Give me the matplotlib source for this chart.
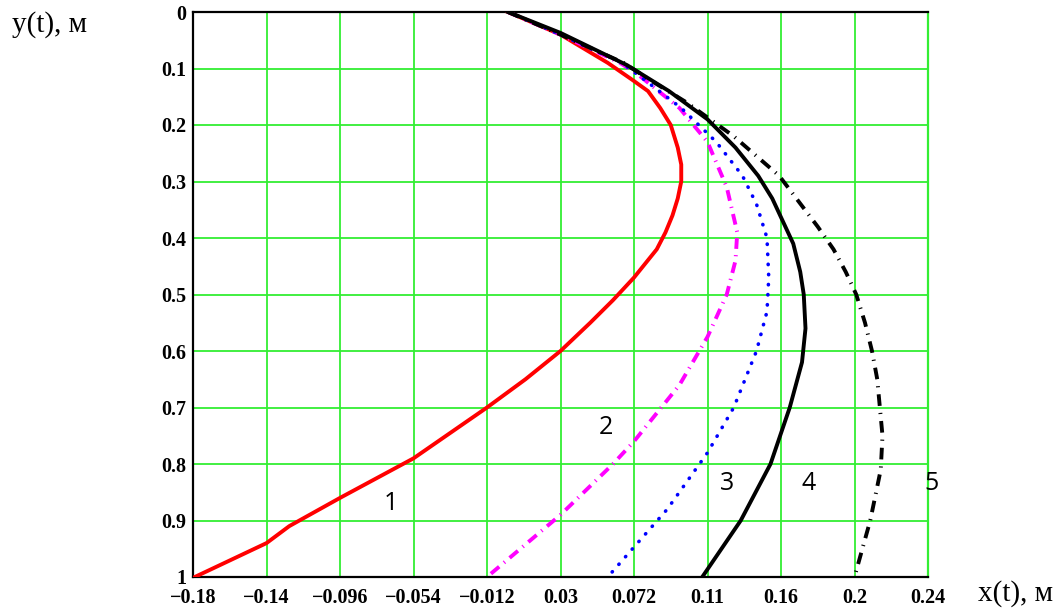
import numpy as np
import matplotlib
matplotlib.use('Agg')
import matplotlib.pyplot as plt

# curve 1 (red, solid)
y1 = [0, 0.04, 0.09, 0.12, 0.14, 0.17, 0.20, 0.24, 0.27, 0.30, 0.33, 0.36, 0.39, 0.42, 0.47, 0.51,
      0.55, 0.60, 0.65, 0.70, 0.745, 0.79, 0.825, 0.86, 0.91, 0.94, 1.0]
x1 = [0, 0.030, 0.057, 0.071, 0.080, 0.087, 0.093, 0.097, 0.099, 0.099, 0.097, 0.094, 0.090, 0.085, 0.072, 0.060,
      0.047, 0.030, 0.010, -0.012, -0.033, -0.054, -0.075, -0.096, -0.125, -0.138, -0.179]

# curve 2 (magenta, dash-dot)
y2 = [0, 0.04, 0.09, 0.11, 0.17, 0.23, 0.31, 0.39, 0.44, 0.50, 0.575, 0.66, 0.76, 0.80, 0.89, 1.0]
x2 = [0, 0.030, 0.064, 0.074, 0.098, 0.114, 0.125, 0.131, 0.130, 0.125, 0.114, 0.098, 0.072, 0.060, 0.030, -0.012]

# curve 3 (blue, dotted)
y3 = [0, 0.04, 0.09, 0.12, 0.17, 0.23, 0.29, 0.34, 0.40, 0.47, 0.53, 0.60, 0.70, 0.78, 0.88, 0.94, 1.0]
x3 = [0, 0.030, 0.065, 0.078, 0.099, 0.119, 0.134, 0.142, 0.148, 0.149, 0.148, 0.142, 0.129, 0.114, 0.091, 0.074, 0.057]

# curve 4 (black, solid)
y4 = [0, 0.037, 0.094, 0.14, 0.19, 0.24, 0.29, 0.33, 0.37, 0.41, 0.46, 0.50, 0.56, 0.62, 0.70, 0.80, 0.90, 1.0]
x4 = [0, 0.030, 0.068, 0.092, 0.114, 0.130, 0.143, 0.151, 0.157, 0.163, 0.167, 0.169, 0.170, 0.168, 0.161, 0.150, 0.133, 0.111]

# curve 5 (black, dash-dot)
y5 = [0, 0.04, 0.09, 0.12, 0.16, 0.22, 0.29, 0.38, 0.42, 0.46, 0.50, 0.55, 0.60, 0.65, 0.75, 0.81, 0.90, 1.0]
x5 = [0, 0.030, 0.066, 0.081, 0.102, 0.129, 0.155, 0.177, 0.186, 0.193, 0.199, 0.204, 0.208, 0.211, 0.214, 0.213, 0.207, 0.198]

xticks = np.linspace(-0.18, 0.24, 11)
xtick_labels = ['\u22120.18', '\u22120.14', '\u22120.096', '\u22120.054', '\u22120.012',
                '0.03', '0.072', '0.11', '0.16', '0.2', '0.24']
yticks = np.linspace(0, 1, 11)
ytick_labels = ['0', '0.1', '0.2', '0.3', '0.4', '0.5', '0.6', '0.7', '0.8', '0.9', '1']

curve_labels = ['1', '2', '3', '4', '5']
label_pos = [(-0.067, 0.87), (0.056, 0.735), (0.125, 0.835), (0.172, 0.835), (0.242, 0.835)]

fig = plt.figure(figsize=(10.56, 6.08), dpi=100)
ax = fig.add_axes([193/1056, 31/608, 735/1056, 565/608])

grid_c = '#33ee33'
for xt in xticks:
    ax.axvline(xt, color=grid_c, lw=1.3, zorder=1)
for yt in yticks:
    ax.axhline(yt, color=grid_c, lw=1.3, zorder=1)

lw = 2.8
ax.plot(x1, y1, color='#ff0000', lw=lw, zorder=3, solid_joinstyle='round')
ax.plot(x2, y2, color='#ff00ff', lw=lw, linestyle=(0, (2.8, 1.6, 0.3, 1.6)), zorder=3)
ax.plot(x3, y3, color='#0000ff', lw=2.6, linestyle=(0, (0.1, 2.7)),
        dash_capstyle='round', zorder=3)
ax.plot(x4, y4, color='black', lw=lw, zorder=4, solid_joinstyle='round')
ax.plot(x5, y5, color='black', lw=lw, linestyle=(0, (3.0, 1.8, 0.3, 1.8)), zorder=3)

for lab, (lx, ly) in zip(curve_labels, label_pos):
    ax.text(lx, ly, lab, fontsize=18, family='Open Sans', ha='center', va='center', zorder=5)

ax.set_xlim(-0.18, 0.24)
ax.set_ylim(1, 0)
ax.set_xticks(xticks)
ax.set_xticklabels(xtick_labels)
ax.set_yticks(yticks)
ax.set_yticklabels(ytick_labels)
ax.tick_params(length=0)
ax.tick_params(axis='x', pad=8)
ax.tick_params(axis='y', pad=5)
for t in ax.get_xticklabels() + ax.get_yticklabels():
    t.set_family('Liberation Serif')
    t.set_fontweight('bold')
    t.set_fontsize(14.5)

for s in ['left', 'bottom', 'top']:
    ax.spines[s].set_color('black')
    ax.spines[s].set_linewidth(1.6)
ax.spines['right'].set_color(grid_c)
ax.spines['right'].set_linewidth(1.6)

fig.text(12/1056, 1 - 25/608, 'y(t), м', family='Liberation Serif', fontsize=21, va='center', ha='left')
fig.text(978/1056, 1 - 594/608, 'x(t), м', family='Liberation Serif', fontsize=21, va='center', ha='left')

fig.savefig('out.png', dpi=100)
